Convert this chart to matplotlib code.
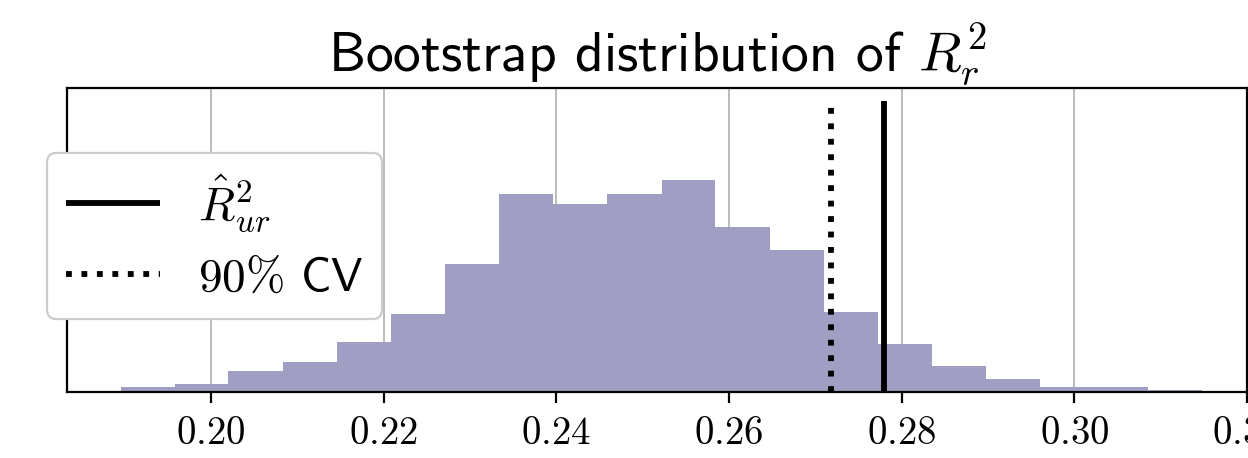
import numpy as np
import matplotlib
matplotlib.use("Agg")
import matplotlib.pyplot as plt
from matplotlib.ticker import FuncFormatter

# histogram of bootstrap R^2 (20 bins), counts
bin_edges = [0.1895, 0.1958, 0.2020, 0.2083, 0.2146, 0.2208, 0.2271,
             0.2334, 0.2396, 0.2459, 0.2522, 0.2584, 0.2647, 0.2710,
             0.2772, 0.2835, 0.2898, 0.2960, 0.3023, 0.3085, 0.3148]
counts = [3, 5, 13, 19, 31, 49, 80, 124, 118, 124,
          133, 103, 89, 50, 30, 16, 8, 3, 3, 1]

r2_ur = 0.2780        # estimate (solid line)
cv_90 = 0.2718        # 90% critical value (dotted line)
line_top = 182
xticks = [0.20, 0.22, 0.24, 0.26, 0.28, 0.30, 0.32]

plt.rcParams['mathtext.fontset'] = 'cm'
plt.rcParams['axes.unicode_minus'] = False

fig = plt.figure(figsize=(12.48, 4.58), dpi=100)
ax = fig.add_axes([0.0537, 0.1441, 0.9455, 0.6627])

ax.stairs(counts, bin_edges, fill=True, color='#a09fc3', zorder=2)
ax.vlines(r2_ur, 0, line_top, color='black', lw=4.2, label=r'$\hat{R}^2_{ur}$', zorder=3)
ax.vlines(cv_90, 0, line_top, color='black', lw=4.2, linestyles=':', label=r'$90\%$ CV', zorder=3)

ax.set_xlim(0.1833, 0.3199)
ax.set_ylim(0, 190)
ax.set_xticks(xticks)
ax.xaxis.set_major_formatter(FuncFormatter(lambda v, p: '$%.2f$' % v))
ax.set_yticks([])
ax.tick_params(axis='x', labelsize=28, length=8, width=1.6, pad=8)
ax.grid(axis='x', color='#b0b0b0', lw=1.2, zorder=0)
ax.set_axisbelow(True)
for s in ax.spines.values():
    s.set_linewidth(1.6)

ax.set_title(r'Bootstrap distribution of $R_r^2$', fontsize=40,
             fontfamily='cmss10', pad=10)

leg = ax.legend(loc='center left', bbox_to_anchor=(0.0377, 0.4847),
                bbox_transform=fig.transFigure, borderaxespad=0,
                prop={'family': 'cmss10', 'size': 34}, framealpha=1,
                edgecolor='#cccccc')
leg.get_frame().set_linewidth(1.6)

fig.savefig('out.png', dpi=100)
